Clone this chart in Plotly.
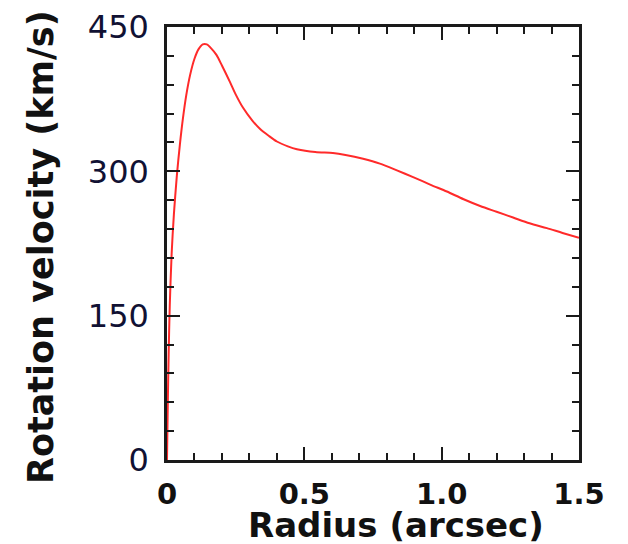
import plotly.graph_objects as go

radius = [0, 0.003, 0.006, 0.01, 0.017, 0.025, 0.036, 0.047, 0.058, 0.07, 0.084, 0.1,
          0.115, 0.13, 0.145, 0.16, 0.18, 0.2, 0.229, 0.25, 0.277, 0.31, 0.339, 0.37,
          0.4, 0.44, 0.473, 0.54, 0.604, 0.65, 0.714, 0.775, 0.837, 0.896, 0.96,
          1.019, 1.08, 1.14, 1.2, 1.26, 1.32, 1.383, 1.44, 1.5]
velocity = [0, 60, 110, 160, 215, 255, 296, 328, 355, 379, 400, 417,
            427, 432, 432, 428, 421, 410, 393, 380, 366, 353, 344, 337,
            331, 326, 323, 320, 319, 317, 313, 308, 301, 294, 286,
            279, 271, 264, 258, 252, 246, 241, 236, 231]

x_ticks = [0, 0.5, 1.0, 1.5]
x_labels = ["0", "0.5", "1.0", "1.5"]
y_ticks = [0, 150, 300, 450]
y_labels = ["0", "150", "300", "450"]

# page body has an 8px default margin; compensate
OFF = 8
W, H = 628 - OFF, 544 - OFF
L, R, T, B = 167 - OFF, 49, 27 - OFF, 84
PW, PH = W - L - R, H - T - B

fig = go.Figure()
fig.add_trace(go.Scatter(x=radius, y=velocity, mode="lines",
                         line=dict(color="#ff2a2a", width=2, shape="spline", smoothing=0.8),
                         showlegend=False, hoverinfo="skip"))

axis_common = dict(showline=True, linecolor="#1a1a1a", linewidth=2.5, mirror="ticks",
                   ticks="inside", ticklen=13, tickwidth=2, tickcolor="#1a1a1a",
                   showgrid=False, zeroline=False, automargin=False)

fig.update_xaxes(range=[0, 1.5], tickvals=x_ticks, ticktext=x_labels,
                 tickfont=dict(family="DejaVu Sans", size=29, color="#111111", weight="bold"),
                 ticklabelstandoff=6,
                 minor=dict(dtick=0.1, ticks="inside", ticklen=7, tickwidth=2, tickcolor="#1a1a1a"),
                 **axis_common)
fig.update_yaxes(range=[0, 450], tickvals=y_ticks, ticktext=y_labels,
                 tickfont=dict(family="DejaVu Sans", size=32, color="#111133"),
                 ticklabelstandoff=9,
                 minor=dict(dtick=30, ticks="inside", ticklen=7, tickwidth=2, tickcolor="#1a1a1a"),
                 **axis_common)

fig.add_annotation(text="Radius (arcsec)", xref="paper", yref="paper", x=(396 - 167) / PW,
                   y=-(525 - 460) / PH, xanchor="center", yanchor="middle", showarrow=False,
                   borderpad=0,
                   font=dict(family="DejaVu Sans", size=34, color="#111111", weight="bold"))
fig.add_annotation(text="Rotation velocity (km/s)", xref="paper", yref="paper",
                   x=-(167 - 41) / PW, y=(460 - 247) / PH, xanchor="center", yanchor="middle",
                   textangle=-90, showarrow=False,
                   font=dict(family="DejaVu Sans", size=35, color="#111111", weight="bold"))

fig.update_layout(width=W, height=H, margin=dict(l=L, r=R, t=T, b=B, autoexpand=False),
                  plot_bgcolor="white", paper_bgcolor="white")

fig.write_html("out.html")
